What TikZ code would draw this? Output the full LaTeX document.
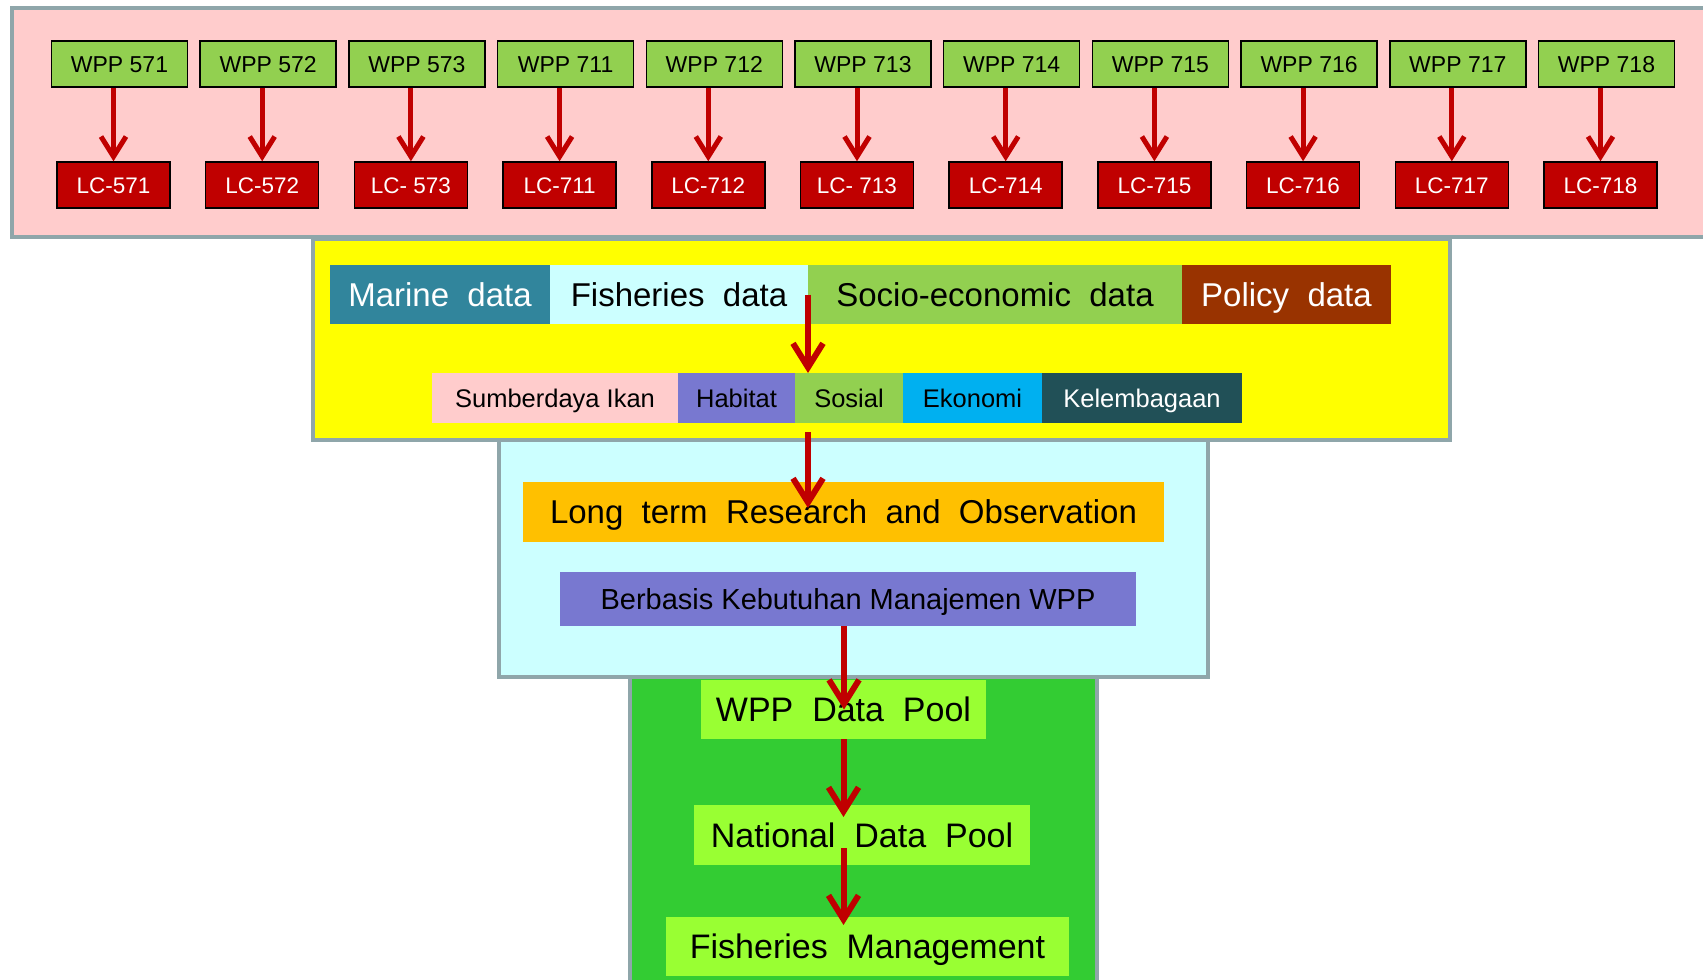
\documentclass[tikz,border=0pt]{standalone}
\usepackage{fontspec}
\setmainfont{Liberation Sans}
\newfontfamily\widefont{Liberation Sans}[WordSpace=2]
\usepackage{tikz}
\usetikzlibrary{arrows.meta, positioning, calc}
\definecolor{pinkbg}{HTML}{FFCCCC}
\definecolor{panelgray}{HTML}{8FA6AA}
\definecolor{wppgreen}{HTML}{92D050}
\definecolor{lcred}{HTML}{C00000}
\definecolor{arrowred}{HTML}{C00000}
\definecolor{yellowbg}{HTML}{FFFF00}
\definecolor{cyanbg}{HTML}{CCFFFF}
\definecolor{greenbg}{HTML}{33CC33}
\definecolor{marineteal}{HTML}{31859C}
\definecolor{socgreen}{HTML}{92D050}
\definecolor{policybrown}{HTML}{993300}
\definecolor{habitatblue}{HTML}{7878D0}
\definecolor{ekoblue}{HTML}{00B0F0}
\definecolor{kelteal}{HTML}{215057}
\definecolor{ltorange}{HTML}{FFC000}
\definecolor{poolgreen}{HTML}{99FF33}
\tikzset{
  panel/.style={draw=panelgray, line width=4pt},
  wppbox/.style={
    rectangle, draw=black, line width=1.5pt,
    fill=wppgreen, minimum width=136pt, minimum height=46pt,
    text height=16.5pt, text depth=0pt,
    font=\fontsize{23}{27}\selectfont,
  },
  lcbox/.style={
    rectangle, draw=black, line width=1.5pt,
    fill=lcred, text=white, minimum width=113pt, minimum height=46pt,
    text height=16.1pt, text depth=0pt,
    font=\fontsize{22.5}{27}\selectfont,
  },
  databox/.style={
    rectangle, outer sep=0pt, inner sep=0pt,
    text height=23.6pt, text depth=0pt,
    minimum height=59pt, font=\widefont\fontsize{33}{38}\selectfont,
  },
  themebox/.style={
    rectangle, outer sep=0pt, inner sep=0pt,
    text height=18.3pt, text depth=0pt,
    minimum height=50pt, font=\fontsize{25.5}{30}\selectfont,
  },
  poolbox/.style={
    rectangle, outer sep=0pt, fill=poolgreen,
    text height=24.3pt, text depth=0pt,
    minimum height=59pt, font=\widefont\fontsize{34}{40}\selectfont,
  },
  arrow/.style={-{Straight Barb[length=20pt, width=25pt]}, line width=5pt, color=arrowred},
  bigarrow/.style={-{Straight Barb[length=24pt, width=30pt]}, line width=6pt, color=arrowred},
}

\begin{document}
\begin{tikzpicture}[x=1pt, y=-1pt]
  \useasboundingbox (0,0) rectangle (1703,980);

  % background panels
  \draw[panel, fill=greenbg] (630,677) rectangle (1097,1000);
  \draw[panel, fill=cyanbg] (499,440) rectangle (1208,677);
  \draw[panel, fill=yellowbg] (313,239) rectangle (1450,440);
  \draw[panel, fill=pinkbg] (12,8) rectangle (1720,237);

  % WPP -> LC
  \foreach \w/\lc [count=\i from 0] in {571/LC-571, 572/LC-572, 573/{LC- 573}, 711/LC-711, 712/LC-712, 713/{LC- 713}, 714/LC-714, 715/LC-715, 716/LC-716, 717/LC-717, 718/LC-718} {
    \node[wppbox] (wpp\w) at ({119.5+148.7*\i}, 64) {WPP \w};
    \node[lcbox] (lc\w) at ({113.5+148.7*\i}, 185) {\lc};
    \draw[arrow] (lc\w.north |- wpp\w.south) -- (lc\w.north);
  }

  % data types
  \node[databox, fill=marineteal, text=white, minimum width=220pt, anchor=west] (marine) at (330,294.5) {Marine data};
  \node[databox, fill=cyanbg, minimum width=258pt, right=0pt of marine] (fish) {Fisheries data};
  \node[databox, fill=socgreen, minimum width=374pt, right=0pt of fish] (socio) {Socio-economic data};
  \node[databox, fill=policybrown, text=white, minimum width=209pt, right=0pt of socio] (policy) {Policy data};

  % themes
  \node[themebox, fill=pinkbg, minimum width=246pt, anchor=west] (sumber) at (432,398) {Sumberdaya Ikan};
  \node[themebox, fill=habitatblue, minimum width=117pt, right=0pt of sumber] (habitat) {Habitat};
  \node[themebox, fill=socgreen, minimum width=108pt, right=0pt of habitat] (sosial) {Sosial};
  \node[themebox, fill=ekoblue, minimum width=139pt, right=0pt of sosial] (ekonomi) {Ekonomi};
  \node[themebox, fill=kelteal, text=white, minimum width=200pt, right=0pt of ekonomi] (kelembagaan) {Kelembagaan};

  % research
  \node[databox, fill=ltorange, minimum width=641pt, minimum height=60pt] (ltro) at (843.5,512) {Long term Research and Observation};
  \node[databox, fill=habitatblue, minimum width=576pt, minimum height=54pt, text height=20.8pt, font=\fontsize{29}{34}\selectfont] (berbasis) at (848,599) {Berbasis Kebutuhan Manajemen WPP};

  % pools
  \node[poolbox, minimum width=285pt] (wpppool) at (843.5,709.5) {WPP Data Pool};
  \node[poolbox, minimum width=336pt, minimum height=60pt] (national) at (862,835) {National Data Pool};
  \node[poolbox, minimum width=403pt] (fishman) at (867.5,946.5) {Fisheries Management};

  \draw[bigarrow] (fish.east) -- (fish.east |- sosial.north);
  \draw[bigarrow] ([yshift=-9pt]fish.east |- sosial.south) -- ([yshift=4pt]fish.east |- ltro.center);
  \draw[bigarrow] ([xshift=-4pt]berbasis.south) -- ([xshift=-4pt]berbasis.south |- wpppool.center);
  \draw[bigarrow] (wpppool.south) -- ([yshift=-12pt]wpppool.south |- national.north);
  \draw[bigarrow] ([yshift=-13pt]wpppool.south |- national.center) -- ([yshift=-8pt]wpppool.south |- fishman.north);

\end{tikzpicture}
\end{document}
